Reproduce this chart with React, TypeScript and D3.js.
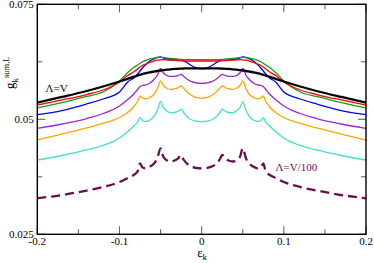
import { useEffect, useRef } from 'react';
import { select, scaleLinear, line, curveMonotoneX } from 'd3';

const W = 374;
const H = 263;
const margin = { top: 4.3, right: 8, bottom: 28.7, left: 37.3 };

// energy grid (eps_k)
const eps = [
  -0.2, -0.17, -0.14, -0.12, -0.1, -0.09, -0.082, -0.078, -0.075, -0.072, -0.068, -0.063, -0.058,
  -0.054, -0.05, -0.047, -0.043, -0.038, -0.033, -0.029, -0.025, -0.022, -0.018, -0.013, -0.007, 0,
  0.007, 0.013, 0.018, 0.022, 0.025, 0.029, 0.033, 0.038, 0.043, 0.047, 0.05, 0.054, 0.058, 0.063,
  0.068, 0.072, 0.075, 0.078, 0.082, 0.09, 0.1, 0.12, 0.14, 0.17, 0.2,
];

// Lambda = V (black)
const gLamV = [
  0.05361, 0.05485, 0.05615, 0.05713, 0.05822, 0.0588, 0.05928, 0.0595, 0.05967, 0.05983, 0.06, 0.0602, 0.06037,
  0.0605, 0.06061, 0.0607, 0.06078, 0.06087, 0.06094, 0.06098, 0.06102, 0.06104, 0.06107, 0.06108, 0.06109, 0.06109,
  0.06109, 0.06108, 0.06107, 0.06104, 0.06102, 0.06098, 0.06094, 0.06087, 0.06078, 0.0607, 0.06061, 0.0605, 0.06037,
  0.0602, 0.06, 0.05983, 0.05967, 0.0595, 0.05928, 0.0588, 0.05822, 0.05713, 0.05615, 0.05485, 0.05361,
];
const gRed = [
  0.05311, 0.0542, 0.05539, 0.05637, 0.05811, 0.05952, 0.06039, 0.06094, 0.06137, 0.0617, 0.06202, 0.06239, 0.06267,
  0.06285, 0.06294, 0.06296, 0.06294, 0.06287, 0.0628, 0.06276, 0.06272, 0.0627, 0.06267, 0.06267, 0.06267, 0.06267,
  0.06267, 0.06267, 0.06267, 0.0627, 0.06272, 0.06276, 0.0628, 0.06287, 0.06294, 0.06296, 0.06294, 0.06285, 0.06267,
  0.06239, 0.06202, 0.0617, 0.06137, 0.06094, 0.06039, 0.05952, 0.05811, 0.05637, 0.05539, 0.0542, 0.05311,
];
const gGreen = [
  0.05246, 0.05361, 0.05496, 0.05594, 0.05833, 0.06017, 0.06137, 0.06181, 0.06217, 0.0625, 0.06283, 0.06311, 0.06331,
  0.06341, 0.06346, 0.06344, 0.06335, 0.06322, 0.06311, 0.06304, 0.063, 0.06298, 0.06296, 0.06296, 0.06296, 0.06296,
  0.06296, 0.06296, 0.06296, 0.06298, 0.063, 0.06304, 0.06311, 0.06322, 0.06335, 0.06344, 0.06346, 0.06341, 0.06331,
  0.06311, 0.06283, 0.0625, 0.06217, 0.06181, 0.06137, 0.06017, 0.05833, 0.05594, 0.05496, 0.05361, 0.05246,
];
const gBlue = [
  0.051, 0.05191, 0.05333, 0.05441, 0.05594, 0.05811, 0.05909, 0.05985, 0.0605, 0.06115, 0.06191, 0.06267, 0.06315,
  0.06344, 0.06354, 0.06337, 0.06311, 0.063, 0.06307, 0.06304, 0.06294, 0.06272, 0.06235, 0.06174, 0.0612, 0.06098,
  0.0612, 0.06174, 0.06235, 0.06272, 0.06294, 0.06304, 0.06307, 0.063, 0.06311, 0.06337, 0.06354, 0.06344, 0.06315,
  0.06267, 0.06191, 0.06115, 0.0605, 0.05985, 0.05909, 0.05811, 0.05594, 0.05441, 0.05333, 0.05191, 0.051,
];
const gViolet = [
  0.04804, 0.04898, 0.05017, 0.05126, 0.05289, 0.0543, 0.05561, 0.05648, 0.05713, 0.05735, 0.05746, 0.05789, 0.05865,
  0.05952, 0.06104, 0.06017, 0.05957, 0.05931, 0.05935, 0.05952, 0.05978, 0.05935, 0.05876, 0.05826, 0.05794, 0.05783,
  0.05794, 0.05826, 0.05876, 0.05935, 0.05978, 0.05952, 0.05935, 0.05931, 0.05957, 0.06017, 0.06104, 0.05952, 0.05865,
  0.05789, 0.05746, 0.05735, 0.05713, 0.05648, 0.05561, 0.0543, 0.05289, 0.05126, 0.05017, 0.04898, 0.04804,
];
const gOrange = [
  0.0455, 0.0468, 0.04811, 0.04909, 0.05039, 0.05148, 0.05289, 0.05387, 0.05507, 0.05463, 0.05446, 0.05474, 0.05544,
  0.05659, 0.05833, 0.05746, 0.05681, 0.05652, 0.05663, 0.05685, 0.05724, 0.05674, 0.05598, 0.05528, 0.05474, 0.05457,
  0.05474, 0.05528, 0.05598, 0.05674, 0.05724, 0.05685, 0.05663, 0.05652, 0.05681, 0.05746, 0.05833, 0.05659, 0.05544,
  0.05474, 0.05446, 0.05463, 0.05507, 0.05387, 0.05289, 0.05148, 0.05039, 0.04909, 0.04811, 0.0468, 0.0455,
];
const gTurq = [
  0.04115, 0.04213, 0.04333, 0.04431, 0.04594, 0.04735, 0.04865, 0.04941, 0.05035, 0.04974, 0.04952, 0.04985, 0.05065,
  0.05191, 0.05383, 0.05267, 0.05191, 0.05141, 0.05148, 0.05174, 0.05217, 0.05148, 0.05061, 0.04996, 0.04959, 0.04948,
  0.04959, 0.04996, 0.05061, 0.05148, 0.05217, 0.05174, 0.05148, 0.05141, 0.05191, 0.05267, 0.05383, 0.05191, 0.05065,
  0.04985, 0.04952, 0.04974, 0.05035, 0.04941, 0.04865, 0.04735, 0.04594, 0.04431, 0.04333, 0.04213, 0.04115,
];
// Lambda = V/100 (dashed)
const gLamV100 = [
  0.03283, 0.03354, 0.03452, 0.03528, 0.03637, 0.03724, 0.038, 0.03865, 0.04039, 0.03952, 0.03935, 0.0397, 0.04039,
  0.04148, 0.0437, 0.04202, 0.04115, 0.04083, 0.04104, 0.04143, 0.04224, 0.04126, 0.04039, 0.03978, 0.03946, 0.03935,
  0.03946, 0.03978, 0.04039, 0.04126, 0.04224, 0.04143, 0.04104, 0.04083, 0.04115, 0.04202, 0.0437, 0.04148, 0.04039,
  0.0397, 0.03935, 0.03952, 0.04039, 0.03865, 0.038, 0.03724, 0.03637, 0.03528, 0.03452, 0.03354, 0.03283,
];

const xMajor = [-0.2, -0.1, 0, 0.1, 0.2];
const xMinor = [-0.15, -0.05, 0.05, 0.15];
const yMajor = [0.025, 0.05, 0.075];
const yMinor = [0.0375, 0.0625];

const series = [
  { values: gLamV100, color: '#6b0d4e', width: 2.3, dash: '9,5' },
  { values: gTurq, color: '#40e0d0', width: 1.3, dash: null },
  { values: gOrange, color: '#ffa500', width: 1.3, dash: null },
  { values: gViolet, color: '#9a26d6', width: 1.3, dash: null },
  { values: gBlue, color: '#0000ff', width: 1.3, dash: null },
  { values: gGreen, color: '#1a9a1a', width: 1.3, dash: null },
  { values: gRed, color: '#ff0000', width: 1.3, dash: null },
  { values: gLamV, color: '#000000', width: 2.3, dash: null },
];

const App = () => {
  const svgRef = useRef<SVGSVGElement>(null);

  useEffect(() => {
    if (!svgRef.current) return;
    const svg = select(svgRef.current);
    svg.selectAll('*').remove();

    const x = scaleLinear().domain([-0.2, 0.2]).range([margin.left, W - margin.right]);
    const y = scaleLinear().domain([0.025, 0.075]).range([H - margin.bottom, margin.top]);
    const font = "'Liberation Serif', 'DejaVu Serif', serif";

    const path = line<number>()
      .x((_, i) => x(eps[i]))
      .y((d) => y(d))
      .curve(curveMonotoneX);

    series.forEach((s) => {
      svg
        .append('path')
        .attr('d', path(s.values))
        .attr('fill', 'none')
        .attr('stroke', s.color)
        .attr('stroke-width', s.width)
        .attr('stroke-dasharray', s.dash)
        .attr('stroke-linejoin', 'round');
    });

    // ticks, pointing inward on all four sides
    const ticks = svg.append('g').attr('stroke', '#666').attr('stroke-width', 1.1);
    const y0 = y(0.025);
    const y1 = y(0.075);
    const x0 = x(-0.2);
    const x1 = x(0.2);
    [...xMajor.map((v) => [v, 8]), ...xMinor.map((v) => [v, 5])].forEach(([v, len]) => {
      ticks.append('line').attr('x1', x(v)).attr('x2', x(v)).attr('y1', y0).attr('y2', y0 - len);
      ticks.append('line').attr('x1', x(v)).attr('x2', x(v)).attr('y1', y1).attr('y2', y1 + len);
    });
    [...yMajor.map((v) => [v, 8]), ...yMinor.map((v) => [v, 5])].forEach(([v, len]) => {
      ticks.append('line').attr('x1', x0).attr('x2', x0 + len).attr('y1', y(v)).attr('y2', y(v));
      ticks.append('line').attr('x1', x1).attr('x2', x1 - len).attr('y1', y(v)).attr('y2', y(v));
    });

    svg
      .append('rect')
      .attr('x', x0)
      .attr('y', y1)
      .attr('width', x1 - x0)
      .attr('height', y0 - y1)
      .attr('fill', 'none')
      .attr('stroke', '#000')
      .attr('stroke-width', 1.4);

    // tick labels
    xMajor.forEach((v) => {
      svg
        .append('text')
        .attr('x', x(v))
        .attr('y', y0 + 11)
        .attr('text-anchor', 'middle')
        .attr('font-family', font)
        .attr('font-size', 11)
        .text(String(v));
    });
    yMajor.forEach((v) => {
      svg
        .append('text')
        .attr('x', x0 - 3.5)
        .attr('y', y(v) + 4)
        .attr('text-anchor', 'end')
        .attr('font-family', font)
        .attr('font-size', 11)
        .text(String(v));
    });

    // axis titles
    const xt = svg
      .append('text')
      .attr('x', x(0) - 4.5)
      .attr('y', 256.5)
      .attr('font-family', font)
      .attr('font-size', 13);
    xt.append('tspan').text('ε');
    xt.append('tspan').attr('dy', 3.5).attr('font-size', 9).text('k');

    const yt = svg
      .append('text')
      .attr('transform', 'translate(14,89) rotate(-90)')
      .attr('font-family', font)
      .attr('font-size', 13);
    yt.append('tspan').text('g');
    yt.append('tspan').attr('dy', 3.5).attr('font-size', 9).text('k');
    yt.append('tspan').attr('dy', -8.5).attr('font-size', 8.5).text('sum,L');

    // curve labels
    svg
      .append('text')
      .attr('x', 45.5)
      .attr('y', 92.3)
      .attr('font-family', font)
      .attr('font-size', 11)
      .text('Λ=V');
    svg
      .append('text')
      .attr('x', 275.5)
      .attr('y', 171)
      .attr('font-family', font)
      .attr('font-size', 11)
      .attr('fill', '#6b0d4e')
      .text('Λ=V/100');
  }, []);

  return (
    <svg
      ref={svgRef}
      width={W}
      height={H}
      style={{ position: 'absolute', left: 0, top: 0, display: 'block', background: '#fff' }}
    />
  );
};

export default App;
